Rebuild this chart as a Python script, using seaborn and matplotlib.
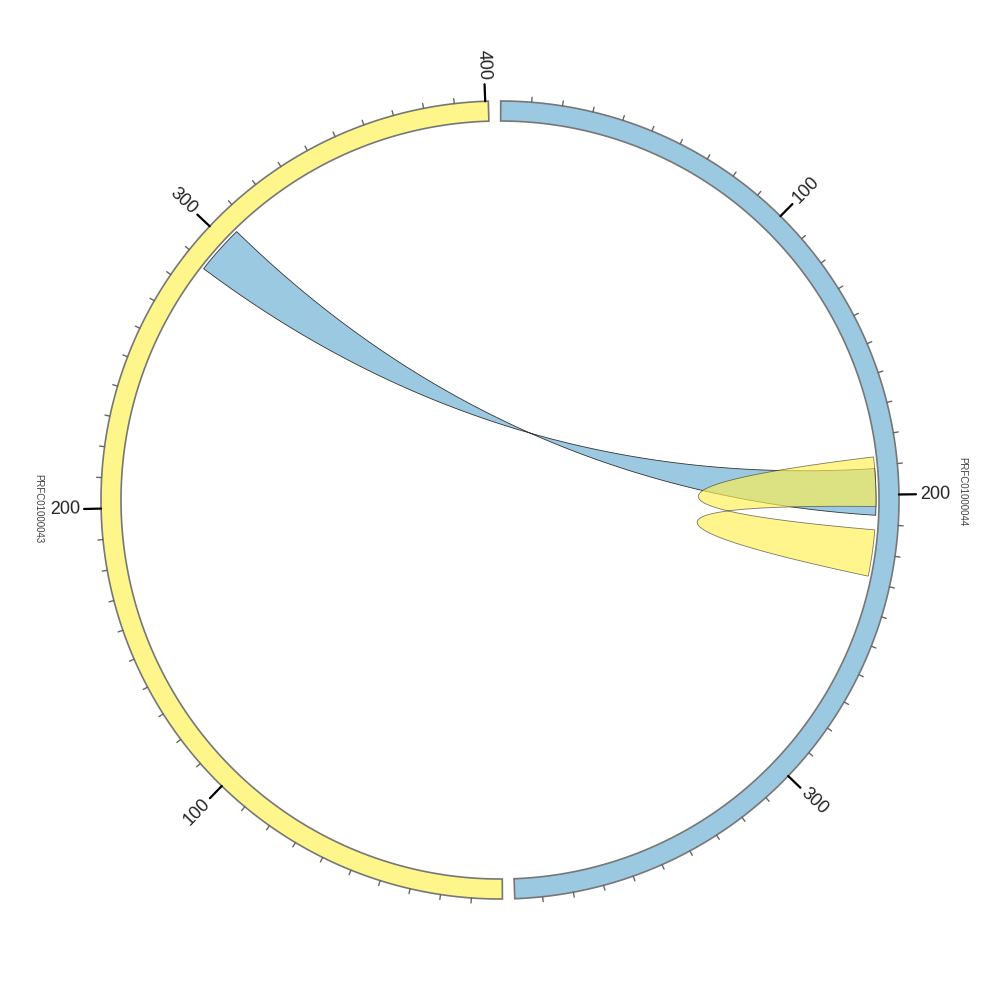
import numpy as np
import matplotlib
matplotlib.use('Agg')
import matplotlib.pyplot as plt
from matplotlib.patches import Polygon
import seaborn as sns

# segments (clockwise from top)
seg_names = ['PRFC01000044', 'PRFC01000043']
seg_lengths = [399, 401]
seg_colors = ['#9cc9e2', '#fff68b']

# links: segment index + start/end on each side (start2 > end2 means inverted)
link_seg1 = [0, 0]
link_start1 = [191, 187]
link_end1 = [207, 204]
link_seg2 = [1, 0]
link_start2 = [305, 228]
link_end2 = [288, 212]
link_colors = ['#9cc9e2', '#fff14e']
link_alpha = [1.0, 0.65]

major_step = 100
minor_step = 10

# geometry (pixel units, centre at 0,0)
GAP = 1.78
START = 0.1
R_IN, R_OUT, R_LINK = 379, 399, 376
CTRL = 0.06
deg_per = (360 - 2 * GAP) / sum(seg_lengths)
seg_start = [START, START + seg_lengths[0] * deg_per + GAP]


def ang(seg, pos):
    return seg_start[seg] + pos * deg_per


def xy(theta, r):
    t = np.radians(theta)
    return np.column_stack([r * np.sin(t), r * np.cos(t)])


def arc(t1, t2, r, n=60):
    return xy(np.linspace(t1, t2, n), np.full(n, r))


def bezier(t1, t2, r, n=120):
    p0 = xy(np.array([t1]), np.array([r]))[0]
    p2 = xy(np.array([t2]), np.array([r]))[0]
    c = CTRL * (p0 + p2) / 2
    s = np.linspace(0, 1, n)[:, None]
    return (1 - s) ** 2 * p0 + 2 * (1 - s) * s * c + s ** 2 * p2


sns.set_theme(style='white')
fig = plt.figure(figsize=(10, 10), dpi=100)
ax = fig.add_axes([0, 0, 1, 1])
ax.set_xlim(-500, 500)
ax.set_ylim(-500, 500)
ax.set_aspect('equal')
ax.axis('off')

# links
for i in range(len(link_seg1)):
    a1, a2 = ang(link_seg1[i], link_start1[i]), ang(link_seg1[i], link_end1[i])
    b1, b2 = ang(link_seg2[i], link_start2[i]), ang(link_seg2[i], link_end2[i])
    pts = np.vstack([arc(a1, a2, R_LINK), bezier(a2, b1, R_LINK),
                     arc(b1, b2, R_LINK), bezier(b2, a1, R_LINK)])
    ax.add_patch(Polygon(pts, closed=True, facecolor=link_colors[i],
                         alpha=link_alpha[i], edgecolor='#333333', lw=0.6))

# segment ring, ticks, labels
for s, name in enumerate(seg_names):
    t1, t2 = ang(s, 0), ang(s, seg_lengths[s])
    ring = np.vstack([arc(t1, t2, R_OUT, 200), arc(t2, t1, R_IN, 200)])
    ax.add_patch(Polygon(ring, closed=True, facecolor=seg_colors[s],
                         edgecolor='#777777', lw=1.2))

    for pos in range(minor_step, seg_lengths[s] + 1, minor_step):
        th = ang(s, pos)
        if pos % major_step == 0:
            p = xy(np.array([th, th]), np.array([R_OUT, R_OUT + 17]))
            ax.plot(p[:, 0], p[:, 1], color='black', lw=1.6)
            lp = xy(np.array([th]), np.array([R_OUT + 21]))[0]
            if th % 360 < 180:
                rot, ha = 90 - th, 'left'
            else:
                rot, ha = 270 - th, 'right'
            ax.text(lp[0], lp[1], str(pos), rotation=rot, ha=ha, va='center',
                    rotation_mode='anchor', fontsize=13, color='#222222',
                    family='Liberation Sans')
        else:
            p = xy(np.array([th, th]), np.array([R_OUT, R_OUT + 5]))
            ax.plot(p[:, 0], p[:, 1], color='#666666', lw=1.0)

    mid = (t1 + t2) / 2
    lp = xy(np.array([mid]), np.array([462]))[0]
    ax.text(lp[0], lp[1], name, rotation=-90, ha='center', va='center',
            fontsize=7, color='#444444', family='Liberation Sans')

fig.savefig('out.png', dpi=100, facecolor='white')
